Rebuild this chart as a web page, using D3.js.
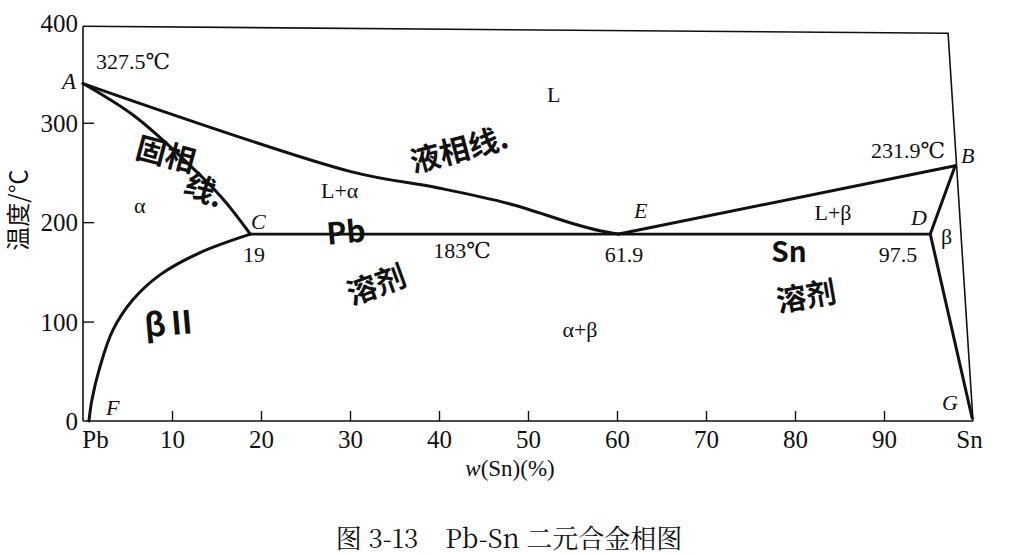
<!DOCTYPE html>
<html><head><meta charset="utf-8">
<script src="https://cdn.jsdelivr.net/npm/d3@7"></script>
<style>
html,body{margin:0;padding:0;background:#fff;}
svg{display:block;}
.serif{font-family:"Liberation Serif","DejaVu Serif",serif;fill:#111;}
.hand{font-family:"Noto Sans CJK SC",sans-serif;font-weight:700;fill:#111;}
</style></head>
<body>
<svg id="chart" width="1024" height="555"></svg>
<script>
// ---- data (w(Sn) %, temperature °C) ----
const xTicks = [0,10,20,30,40,50,60,70,80,90,100];
const xTickLabels = ["Pb","10","20","30","40","50","60","70","80","90","Sn"];
const yTicks = [0,100,200,300,400];
const yTickLabels = ["0","100","200","300","400"];

// liquidus A -> E
const liquidusAE = [[0,339.4],[30.1,250.8],[39.8,234.6],[47.9,218.5],[55.1,198.4],[58.1,191.3],[60.2,188]];
// solidus A -> C
const solidusAC = [[0,339.4],[5.7,307.2],[11.7,259.8],[15.7,223.6],[18.8,188]];
// solvus F -> C
const solvusFC = [[0.67,0],[1.0,21.1],[1.9,54.4],[3.37,91.6],[5.6,121.9],[8.65,147],[13.1,169.2],[18.8,188]];
// eutectic line C -> D
const eutectic = [[18.8,188],[95.2,188]];
// liquidus E -> B
const liquidusEB = [[60.2,188],[98.0,256.8]];
// solidus B -> D
const solidusBD = [[98.0,256.8],[95.2,188]];
// solvus D -> G
const solvusDG = [[95.2,188],[99.9,3]];
// frame (top + right edge as scanned)
const frame = [[0,397],[97.2,390],[100,0]];

const svg = d3.select("#chart");
const x = d3.scaleLinear().domain([0,100]).range([83,973]);
const y = d3.scaleLinear().domain([0,400]).range([421,23.3]);

const lineLin = d3.line().x(d=>x(d[0])).y(d=>y(d[1]));
const lineCurve = d3.line().x(d=>x(d[0])).y(d=>y(d[1])).curve(d3.curveCatmullRom.alpha(0.5));

// frame
svg.append("path").attr("d", lineLin(frame)).attr("fill","none").attr("stroke","#111").attr("stroke-width",1.6);

// axes
const yAxis = d3.axisLeft(y).tickValues(yTicks).tickFormat((d,i)=>yTickLabels[i]).tickSize(-11).tickPadding(4);
const gy = svg.append("g").attr("transform",`translate(${x(0)},0)`).call(yAxis);
gy.select(".domain").attr("stroke","#111").attr("stroke-width",1.6).attr("d",`M0,${y(0)}V${y(397)}`);
gy.selectAll(".tick line").attr("stroke","#111").attr("stroke-width",1.4).attr("x1",0).attr("x2",11);
gy.selectAll(".tick").filter(d=>d===0||d===400).select("line").remove();
gy.selectAll(".tick text").attr("class","serif").attr("font-size",25).attr("x",-5).attr("dy","0.34em").style("fill","#111");

const xAxis = d3.axisBottom(x).tickValues(xTicks).tickFormat((d,i)=>xTickLabels[i]).tickSize(-10).tickPadding(8);
const gx = svg.append("g").attr("transform",`translate(0,${y(0)})`).call(xAxis);
gx.select(".domain").attr("stroke","#111").attr("stroke-width",1.6).attr("d",`M${x(0)},0H${x(100)}`);
gx.selectAll(".tick line").attr("stroke","#111").attr("stroke-width",1.4);
gx.selectAll(".tick").filter(d=>d===0||d===100).select("line").remove();
gx.selectAll(".tick text").attr("class","serif").attr("font-size",25).attr("y",9).attr("dy","0.71em").style("fill","#111");
gx.selectAll(".tick").filter(d=>d===0).select("text").attr("x",12);
gx.selectAll(".tick").filter(d=>d===100).select("text").attr("x",-4);

// phase lines
const phase = svg.append("g").attr("fill","none").attr("stroke","#111").attr("stroke-width",3).attr("stroke-linejoin","round").attr("stroke-linecap","round");
phase.append("path").attr("d", lineCurve(liquidusAE));
phase.append("path").attr("d", lineCurve(solidusAC));
phase.append("path").attr("d", lineCurve(solvusFC));
phase.append("path").attr("d", lineLin(eutectic)).attr("stroke-width",2.8);
phase.append("path").attr("d", lineLin(liquidusEB));
phase.append("path").attr("d", lineLin(solidusBD));
phase.append("path").attr("d", lineLin(solvusDG));

// printed labels
const T = (txt, px, py, opts={}) => {
  const t = svg.append("text").attr("class","serif").attr("x",px).attr("y",py)
    .attr("font-size",opts.size||22).attr("text-anchor",opts.anchor||"start").text(txt);
  if (opts.italic) t.attr("font-style","italic");
  return t;
};
T("A", 62, 89, {italic:true, size:23});
T("327.5℃", 96, 69);
T("L", 547, 102);
T("L+α", 321, 198);
T("α", 134, 213);
T("C", 251, 229, {italic:true});
T("19", 254, 262, {anchor:"middle"});
T("183℃", 462, 258, {anchor:"middle"});
T("E", 634, 218, {italic:true});
T("61.9", 624, 262, {anchor:"middle"});
T("α+β", 580, 337, {anchor:"middle"});
T("231.9℃", 908, 158, {anchor:"middle"});
T("B", 961, 163, {italic:true});
T("L+β", 833, 220, {anchor:"middle"});
T("D", 911, 225, {italic:true});
T("β", 941, 244);
T("97.5", 898, 262, {anchor:"middle"});
T("G", 942, 410, {italic:true});
T("F", 106, 415, {italic:true});

// axis titles
svg.append("text").attr("class","serif").attr("transform","translate(27,210) rotate(-90)")
  .attr("text-anchor","middle").attr("font-size",24)
  .style("font-family","'Noto Sans CJK SC','Liberation Serif',serif").text("温度/℃");
const xt = svg.append("text").attr("class","serif").attr("x",510).attr("y",476).attr("text-anchor","middle").attr("font-size",23);
xt.append("tspan").attr("font-style","italic").text("w");
xt.append("tspan").text("(Sn)(%)");

// caption
svg.append("text").attr("class","serif").attr("x",509).attr("y",548).attr("text-anchor","middle").attr("font-size",26)
  .attr("xml:space","preserve")
  .style("font-family","'Noto Serif CJK SC','Noto Sans CJK SC','Liberation Serif',serif").text("图 3-13    Pb-Sn 二元合金相图");

// handwritten notes
const H = (txt, px, py, rot, size) => svg.append("text").attr("class","hand")
  .attr("transform",`translate(${px},${py}) rotate(${rot})`).attr("text-anchor","middle")
  .attr("font-size",size).text(txt);
H("固相", 163, 165, 15, 30);
H("线.", 200, 200, 25, 30);
H("液相线.", 462, 160, -15, 30);
H("Pb", 347, 243, -5, 30);
H("溶剂", 380, 295, -20, 30);
H("βⅡ", 172, 335, -5, 32);
H("Sn", 789, 262, 0, 28);
H("溶剂", 808, 307, -10, 30);
</script>
</body></html>
